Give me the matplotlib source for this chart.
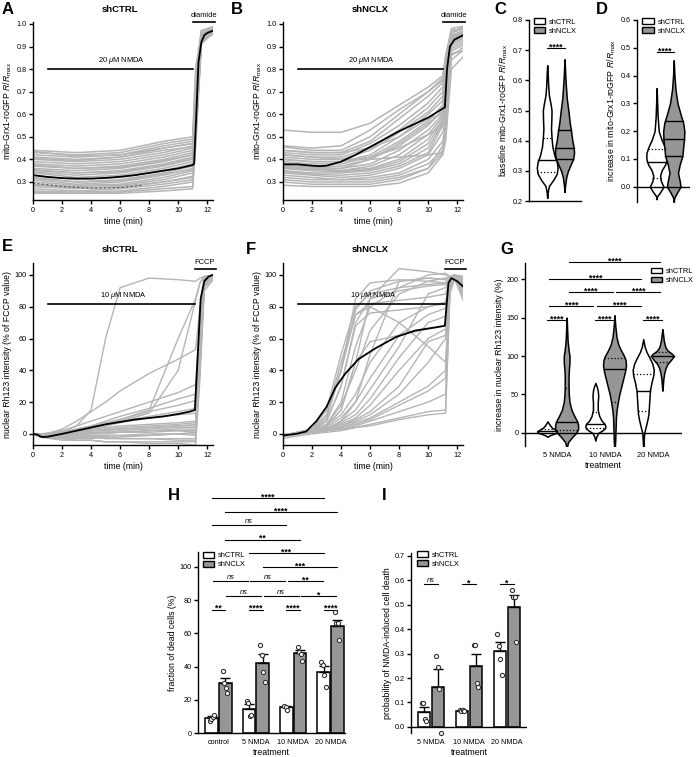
import numpy as np
import matplotlib
matplotlib.use('Agg')
import matplotlib.pyplot as plt
from matplotlib.patches import Patch

plt.rcParams['font.family'] = 'Liberation Sans'
plt.rcParams['mathtext.fontset'] = 'custom'
plt.rcParams['mathtext.rm'] = 'Liberation Sans'
plt.rcParams['mathtext.it'] = 'Liberation Sans:italic'
plt.rcParams['axes.linewidth'] = 1.0
plt.rcParams['xtick.labelsize'] = 5.2
plt.rcParams['ytick.labelsize'] = 5.2
plt.rcParams['xtick.major.size'] = 3
plt.rcParams['ytick.major.size'] = 3
plt.rcParams['xtick.major.pad'] = 2
plt.rcParams['ytick.major.pad'] = 1.5

LAB = 6.3   # axis label size
ANN = 5.4   # annotation text size

# ---------------- data ----------------
# A: mito-Grx1-roGFP traces, shCTRL, 20 uM NMDA
t_a = [0, 3, 6, 9, 11, 11.2, 11.6, 12.5]
traces_a = [
    [0.44, 0.43, 0.44, 0.48, 0.50, 0.80, 0.97, 0.99],
    [0.435, 0.415, 0.42, 0.45, 0.47, 0.74, 0.97, 0.99],
    [0.43, 0.42, 0.43, 0.47, 0.49, 0.75, 0.96, 0.98],
    [0.42, 0.41, 0.42, 0.46, 0.48, 0.70, 0.95, 0.97],
    [0.41, 0.40, 0.41, 0.45, 0.47, 0.72, 0.96, 0.98],
    [0.405, 0.395, 0.41, 0.44, 0.455, 0.70, 0.95, 0.97],
    [0.40, 0.39, 0.40, 0.43, 0.46, 0.68, 0.94, 0.97],
    [0.39, 0.38, 0.39, 0.42, 0.45, 0.66, 0.95, 0.99],
    [0.38, 0.37, 0.38, 0.41, 0.44, 0.70, 0.96, 0.98],
    [0.375, 0.36, 0.365, 0.395, 0.42, 0.63, 0.94, 0.98],
    [0.37, 0.36, 0.37, 0.40, 0.43, 0.62, 0.93, 0.96],
    [0.36, 0.35, 0.36, 0.39, 0.42, 0.65, 0.94, 0.97],
    [0.355, 0.34, 0.345, 0.375, 0.405, 0.66, 0.95, 0.97],
    [0.35, 0.34, 0.35, 0.38, 0.41, 0.60, 0.95, 0.98],
    [0.345, 0.33, 0.34, 0.37, 0.40, 0.64, 0.94, 0.96],
    [0.34, 0.32, 0.33, 0.36, 0.39, 0.58, 0.93, 0.97],
    [0.33, 0.31, 0.32, 0.35, 0.38, 0.62, 0.95, 0.99],
    [0.32, 0.30, 0.31, 0.34, 0.37, 0.55, 0.92, 0.96],
    [0.315, 0.30, 0.305, 0.335, 0.355, 0.58, 0.93, 0.98],
    [0.31, 0.29, 0.30, 0.33, 0.36, 0.60, 0.94, 0.97],
    [0.30, 0.285, 0.29, 0.32, 0.35, 0.52, 0.93, 0.98],
    [0.29, 0.28, 0.285, 0.31, 0.34, 0.56, 0.94, 0.96],
    [0.285, 0.275, 0.275, 0.30, 0.325, 0.52, 0.92, 0.97],
    [0.28, 0.27, 0.28, 0.30, 0.32, 0.50, 0.92, 0.97],
    [0.27, 0.26, 0.27, 0.29, 0.31, 0.55, 0.93, 0.98],
    [0.26, 0.255, 0.26, 0.28, 0.30, 0.48, 0.92, 0.96],
    [0.255, 0.25, 0.255, 0.27, 0.28, 0.45, 0.91, 0.97],
    [0.25, 0.25, 0.25, 0.26, 0.27, 0.50, 0.93, 0.99],
]
t_a_mean = [0, 1, 2, 3, 4, 5, 6, 7, 8, 9, 10, 11, 11.1, 11.25, 11.4, 11.6, 11.8, 12, 12.4]
mean_a = [0.33, 0.322, 0.317, 0.315, 0.315, 0.318, 0.323, 0.33, 0.34, 0.35, 0.36, 0.375,
          0.38, 0.6, 0.83, 0.92, 0.95, 0.96, 0.97]
t_a_dark = [0, 2, 4, 6, 7.5]
dark_a = [0.295, 0.28, 0.272, 0.275, 0.285]

# B: shNCLX, 20 uM NMDA
t_b = [0, 2, 4, 6, 8, 10, 11, 11.2, 11.6, 12.5]
traces_b = [
    [0.53, 0.52, 0.52, 0.56, 0.64, 0.72, 0.77, 0.85, 0.98, 0.99],
    [0.46, 0.45, 0.46, 0.53, 0.62, 0.70, 0.76, 0.86, 0.97, 0.98],
    [0.455, 0.44, 0.44, 0.50, 0.60, 0.70, 0.75, 0.82, 0.96, 0.99],
    [0.44, 0.43, 0.43, 0.48, 0.58, 0.68, 0.74, 0.84, 0.97, 0.98],
    [0.44, 0.43, 0.43, 0.45, 0.50, 0.58, 0.60, 0.70, 0.94, 0.96],
    [0.43, 0.42, 0.42, 0.47, 0.55, 0.65, 0.72, 0.80, 0.95, 0.97],
    [0.42, 0.41, 0.41, 0.45, 0.53, 0.63, 0.70, 0.78, 0.96, 0.98],
    [0.42, 0.41, 0.40, 0.40, 0.41, 0.42, 0.43, 0.55, 0.93, 0.97],
    [0.41, 0.40, 0.40, 0.44, 0.52, 0.61, 0.68, 0.79, 0.94, 0.96],
    [0.40, 0.39, 0.39, 0.42, 0.50, 0.60, 0.66, 0.76, 0.95, 0.97],
    [0.40, 0.39, 0.39, 0.41, 0.45, 0.51, 0.55, 0.65, 0.93, 0.96],
    [0.39, 0.38, 0.38, 0.41, 0.48, 0.57, 0.64, 0.74, 0.93, 0.96],
    [0.38, 0.37, 0.37, 0.40, 0.46, 0.55, 0.62, 0.72, 0.94, 0.97],
    [0.375, 0.365, 0.36, 0.38, 0.44, 0.53, 0.60, 0.70, 0.92, 0.95],
    [0.37, 0.36, 0.35, 0.37, 0.42, 0.51, 0.59, 0.68, 0.93, 0.96],
    [0.365, 0.355, 0.35, 0.36, 0.40, 0.49, 0.58, 0.66, 0.91, 0.94],
    [0.36, 0.355, 0.36, 0.40, 0.47, 0.56, 0.61, 0.72, 0.94, 0.97],
    [0.36, 0.35, 0.345, 0.355, 0.39, 0.47, 0.57, 0.64, 0.92, 0.95],
    [0.35, 0.34, 0.34, 0.35, 0.38, 0.45, 0.56, 0.62, 0.90, 0.93],
    [0.345, 0.335, 0.33, 0.34, 0.37, 0.43, 0.55, 0.60, 0.91, 0.94],
    [0.34, 0.33, 0.32, 0.33, 0.36, 0.42, 0.52, 0.58, 0.89, 0.92],
    [0.33, 0.32, 0.31, 0.32, 0.34, 0.40, 0.48, 0.55, 0.88, 0.91],
    [0.32, 0.31, 0.31, 0.31, 0.33, 0.38, 0.44, 0.52, 0.86, 0.90],
    [0.31, 0.30, 0.30, 0.30, 0.32, 0.36, 0.43, 0.50, 0.84, 0.89],
    [0.30, 0.29, 0.29, 0.29, 0.31, 0.36, 0.46, 0.54, 0.87, 0.88],
    [0.285, 0.28, 0.28, 0.28, 0.295, 0.34, 0.42, 0.48, 0.80, 0.86],
]
t_b_mean = [0, 1, 2, 2.5, 3, 4, 5, 6, 7, 8, 9, 10, 11, 11.15, 11.3, 11.5, 11.8, 12.1, 12.4]
mean_b = [0.378, 0.378, 0.372, 0.370, 0.372, 0.39, 0.42, 0.455, 0.49, 0.525, 0.555, 0.585,
          0.625, 0.63, 0.80, 0.90, 0.93, 0.94, 0.95]

# C / D violins (y levels, half widths, quartiles)
c_ctrl_y = [0.21, 0.23, 0.25, 0.27, 0.29, 0.31, 0.33, 0.35, 0.38, 0.41, 0.44, 0.47, 0.50, 0.52, 0.55, 0.58, 0.62, 0.65]
c_ctrl_w = [0, 0.03, 0.1, 0.35, 0.55, 0.6, 0.55, 0.42, 0.3, 0.25, 0.22, 0.24, 0.25, 0.2, 0.1, 0.06, 0.03, 0]
c_ctrl_q = [0.295, 0.335, 0.41]
c_nclx_y = [0.23, 0.25, 0.28, 0.30, 0.32, 0.34, 0.36, 0.38, 0.40, 0.43, 0.46, 0.50, 0.54, 0.58, 0.62, 0.67]
c_nclx_w = [0, 0.03, 0.1, 0.2, 0.35, 0.5, 0.55, 0.52, 0.45, 0.38, 0.3, 0.22, 0.13, 0.08, 0.04, 0]
c_nclx_q = [0.34, 0.375, 0.435]

d_ctrl_y = [-0.045, -0.035, -0.02, 0.0, 0.02, 0.04, 0.06, 0.08, 0.10, 0.12, 0.14, 0.17, 0.20, 0.25, 0.30, 0.355]
d_ctrl_w = [0, 0.02, 0.2, 0.4, 0.25, 0.2, 0.3, 0.5, 0.6, 0.6, 0.5, 0.28, 0.12, 0.06, 0.03, 0]
d_ctrl_q = [0.03, 0.09, 0.135]
d_nclx_y = [-0.055, -0.04, -0.02, 0.0, 0.02, 0.05, 0.08, 0.11, 0.14, 0.17, 0.20, 0.23, 0.26, 0.30, 0.35, 0.40, 0.455]
d_nclx_w = [0, 0.03, 0.2, 0.4, 0.35, 0.25, 0.35, 0.5, 0.55, 0.6, 0.62, 0.55, 0.4, 0.22, 0.1, 0.04, 0]
d_nclx_q = [0.11, 0.172, 0.237]

# E: Rh123, shCTRL, 10 uM NMDA
t_ef = [0, 0.5, 2, 3, 4, 5, 6, 8, 10, 11.2, 11.5, 11.8, 12.5]
traces_e = [
    [0, -1, -2, -1, 0, 0, 1, 2, 3, 3, 50, 95, 100],
    [0, -1, -1, 0, 1, 1, 2, 3, 4, 4, 55, 97, 99],
    [0, -2, -3, -3, -3, -2, -2, -1, 0, 0, 45, 94, 100],
    [0, -2, -4, -4, -4, -5, -5, -5, -5, -5, 40, 92, 99],
    [0, -1, -2, -2, -2, -3, -3, -3, -3, -3, 50, 95, 100],
    [0, -1, 0, 1, 2, 3, 4, 5, 6, 7, 60, 96, 100],
    [0, 0, 1, 2, 3, 4, 5, 6, 7, 8, 65, 98, 100],
    [0, -2, -3, -4, -4, -5, -5, -6, -6, -7, 35, 90, 98],
    [0, -1, -1, -1, -1, -1, -1, 0, 0, 1, 52, 96, 100],
    [0, -1, 0, 0, 1, 1, 1, 2, 2, 2, 48, 94, 99],
    [0, -1, -2, -2, -2, -1, -1, -1, 0, -1, 42, 93, 100],
    [0, 0, 1, 2, 2, 3, 3, 4, 5, 6, 58, 97, 100],
    [0, -2, -3, -2, -2, -2, -3, -3, -4, -4, 45, 93, 99],
    [0, -1, 0, 1, 2, 2, 3, 4, 5, 5, 53, 96, 100],
    [0, -1, -1, 0, 0, 1, 1, 1, 2, 1, 47, 95, 100],
    [0, -1, 3, 8, 14, 20, 27, 38, 47, 53, 80, 98, 100],
    [0, -1, 2, 5, 8, 11, 14, 20, 26, 31, 70, 97, 100],
    [0, -1, 1, 3, 5, 8, 11, 16, 22, 25, 68, 97, 100],
    [0, -1, 1, 5, 15, 60, 92, 98, 97, 96, 98, 99, 100],
    [0, -1, 1, 3, 5, 7, 9, 15, 60, 85, 95, 99, 100],
    [0, -1, 0, 2, 4, 6, 8, 13, 40, 84, 95, 99, 100],
    [0, -1, 1, 2, 4, 6, 9, 14, 18, 21, 65, 96, 100],
    [0, -1, 1, 2, 4, 6, 8, 11, 14, 16, 62, 96, 100],
    [0, 0, 1, 2, 3, 5, 7, 10, 12, 13, 60, 96, 99],
]
t_e_mean = [0, 0.3, 0.6, 1, 2, 3, 4, 5, 6, 7, 8, 9, 10, 10.8, 11.15, 11.35, 11.55, 11.8, 12.1, 12.4]
mean_e = [0, -0.5, -2, -1.8, 0, 2, 4, 6, 7.5, 9, 10, 11, 12.5, 14, 15, 50, 85, 96, 99, 100]

# F: Rh123, shNCLX, 10 uM NMDA
traces_f = [
    [0, 0, 3, 15, 50, 80, 88, 92, 94, 95, 98, 99, 98],
    [0, 0, 2, 10, 40, 78, 90, 96, 98, 97, 99, 100, 97],
    [-1, 0, 2, 8, 30, 70, 85, 90, 93, 94, 98, 99, 95],
    [0, 0, 3, 12, 45, 75, 82, 84, 86, 88, 97, 99, 93],
    [-2, -1, 1, 6, 20, 55, 80, 92, 100, 101, 99, 98, 96],
    [0, 0, 2, 6, 18, 40, 65, 88, 96, 98, 99, 100, 99],
    [0, 0, 2, 5, 15, 45, 85, 104, 102, 100, 99, 100, 98],
    [0, 0, 2, 5, 12, 25, 45, 70, 80, 83, 96, 99, 90],
    [0, 0, 1, 4, 10, 20, 35, 62, 75, 79, 95, 99, 88],
    [0, 0, 1, 3, 8, 15, 28, 55, 88, 92, 97, 100, 94],
    [0, 0, 1, 3, 7, 12, 22, 48, 70, 74, 95, 99, 92],
    [0, 0, 1, 3, 6, 10, 18, 40, 60, 66, 94, 98, 85],
    [0, 0, 1, 2, 5, 9, 14, 30, 58, 62, 94, 99, 90],
    [-1, 0, 1, 2, 5, 8, 12, 25, 45, 60, 93, 98, 86],
    [0, 0, 1, 2, 4, 7, 10, 20, 30, 40, 92, 98, 82],
    [0, 0, 1, 2, 4, 6, 9, 18, 27, 35, 92, 99, 95],
    [0, 0, 1, 2, 3, 5, 8, 14, 20, 25, 90, 98, 90],
    [0, 0, 1, 2, 3, 4, 6, 10, 14, 15, 90, 97, 93],
    [-3, -2, 0, 1, 2, 4, 5, 9, 12, 13, 88, 97, 95],
    [0, 0, 2, 5, 15, 45, 58, 62, 66, 68, 96, 99, 91],
    [0, 0, 2, 8, 30, 68, 76, 78, 80, 82, 97, 99, 92],
    [0, 0, 3, 12, 40, 85, 95, 97, 96, 95, 98, 99, 97],
    [0, 0, 1, 3, 8, 20, 50, 96, 98, 97, 99, 99, 96],
    [0, 0, 2, 10, 40, 75, 80, 70, 55, 45, 94, 99, 90],
]
t_f_mean = [0, 0.9, 1.6, 2.3, 3.0, 3.6, 4.3, 5.2, 6.4, 7.8, 9.1, 10.5, 11.15, 11.4, 11.6, 12.0, 12.5]
mean_f = [-1, 0, 1.5, 8, 17, 29, 38, 47, 54, 61, 65, 67, 68, 95, 98, 96, 92]

# G violins: increase in nuclear Rh123 intensity (%)
g_groups = ['5 NMDA', '10 NMDA', '20 NMDA']
g_ctrl_y = [
    [-5, -3, 0, 2, 4, 7, 10, 13, 15],
    [-10, -5, 0, 3, 6, 9, 12, 16, 22, 30, 40, 48, 55, 60, 65],
    [-20, -10, 0, 5, 10, 18, 25, 35, 45, 55, 65, 75, 82, 90, 98, 105, 112, 122],
]
g_ctrl_w = [
    [0, 0.05, 0.18, 0.22, 0.17, 0.09, 0.05, 0.02, 0],
    [0, 0.02, 0.06, 0.14, 0.2, 0.21, 0.19, 0.13, 0.08, 0.05, 0.05, 0.06, 0.05, 0.03, 0],
    [0, 0.01, 0.02, 0.04, 0.06, 0.09, 0.11, 0.12, 0.13, 0.14, 0.17, 0.21, 0.22, 0.19, 0.13, 0.07, 0.03, 0],
]
g_ctrl_q = [[0.5, 2.5, 5], [6, 12, 27], [28, 55, 77]]
g_nclx_y = [
    [-20, -12, -5, 0, 5, 10, 15, 22, 30, 40, 50, 60, 75, 85, 92, 100, 108, 120, 135, 150],
    [-25, -10, 0, 10, 20, 30, 40, 50, 60, 70, 80, 88, 95, 100, 108, 115, 125, 140, 153],
    [55, 62, 70, 78, 85, 90, 95, 100, 103, 107, 112, 120, 128, 135],
]
g_nclx_w = [
    [0, 0.03, 0.12, 0.2, 0.24, 0.24, 0.22, 0.16, 0.10, 0.06, 0.045, 0.04, 0.04, 0.05, 0.06, 0.06, 0.04, 0.02, 0.01, 0],
    [0, 0.015, 0.02, 0.025, 0.03, 0.045, 0.07, 0.1, 0.14, 0.18, 0.22, 0.24, 0.23, 0.2, 0.13, 0.08, 0.04, 0.015, 0],
    [0, 0.01, 0.02, 0.04, 0.07, 0.11, 0.18, 0.24, 0.2, 0.11, 0.06, 0.03, 0.015, 0],
]
g_nclx_q = [[4, 14, 58], [40, 83, 98], [92, 100, 105]]

# H: fraction of dead cells (%)
h_groups = ['control', '5 NMDA', '10 NMDA', '20 NMDA']
h_ctrl_mean = [9, 14.5, 15.5, 37]
h_ctrl_err = [1.2, 2.8, 0.8, 3.5]
h_nclx_mean = [30, 42, 48, 64.5]
h_nclx_err = [3.0, 5.5, 1.8, 3.5]
h_ctrl_pts = [[7.5, 8.5, 9.5, 11], [19.5, 18, 10.5, 11], [16.5, 15.5, 14], [43, 41, 35, 27.5]]
h_nclx_pts = [[37.5, 30, 27, 24], [53, 47, 37, 31], [51.5, 49, 47.5, 43.5], [73, 66, 66, 56]]

# I: probability of NMDA-induced cell death
i_groups = ['5 NMDA', '10 NMDA', '20 NMDA']
i_ctrl_mean = [0.06, 0.065, 0.31]
i_ctrl_err = [0.02, 0.003, 0.038]
i_nclx_mean = [0.165, 0.25, 0.49]
i_nclx_err = [0.07, 0.05, 0.05]
i_ctrl_pts = [[0.096, 0.096, 0.034, 0.025], [0.068, 0.066, 0.07, 0.064], [0.38, 0.333, 0.28, 0.212]]
i_nclx_pts = [[0.29, 0.246, 0.157, -0.023], [0.334, 0.334, 0.178, 0.164], [0.56, 0.533, 0.533, 0.349]]

# ---------------- figure ----------------
W, H = 697, 757
fig = plt.figure(figsize=(W / 100, H / 100), dpi=100)

TRACE = '#b5b5b5'
GREY = '#969696'


def px_axes(x0, y0, x1, y1):
    return fig.add_axes([x0 / W, 1 - y1 / H, (x1 - x0) / W, (y1 - y0) / H])


def ftext(x, y, s, **kw):
    fig.text(x / W, 1 - y / H, s, **kw)


def clean(ax):
    for s in ['top', 'right']:
        ax.spines[s].set_visible(False)
    ax.tick_params(width=1.0, colors='black')


def violin(ax, pos, ys, ws, q, face, dotted=True):
    ys = np.asarray(ys)
    ws = np.asarray(ws)
    ax.fill_betweenx(ys, pos - ws, pos + ws, facecolor=face, edgecolor='black', lw=1.1, zorder=3)
    for val, ls in zip(q, [':' if dotted else '-', '-', ':' if dotted else '-']):
        w = np.interp(val, ys, ws)
        ax.plot([pos - w, pos + w], [val, val], color='black', lw=1.0 if ls == '-' else 0.9,
                ls=ls, zorder=4)


def sig(ax, x0, x1, y, label, gap=0.04):
    ax.plot([x0 + gap, x1 - gap], [y, y], color='black', lw=0.8, clip_on=False)
    if label == 'ns':
        ax.annotate(label, xy=((x0 + x1) / 2, y), xytext=(0, 1.5), textcoords='offset points',
                    ha='center', va='baseline', fontsize=5.4, fontstyle='italic', annotation_clip=False)
    else:
        ax.annotate(label, xy=((x0 + x1) / 2, y), xytext=(0, -1.0), textcoords='offset points',
                    ha='center', va='baseline', fontsize=6.2, fontweight='bold', annotation_clip=False)


def legend_boxes(ax, x, y):
    handles = [Patch(facecolor='white', edgecolor='black', lw=1.0, label='shCTRL'),
               Patch(facecolor=GREY, edgecolor='black', lw=1.0, label='shNCLX')]
    ax.legend(handles=handles, loc='upper left', bbox_to_anchor=(x, y), frameon=False,
              fontsize=5.4, handlelength=1.5, handleheight=0.8, handletextpad=0.5,
              borderaxespad=0, borderpad=0, labelspacing=0.2)


ylab_grx = r'mito-Grx1-roGFP $\mathit{R/R}_{\mathrm{max}}$'
ylab_rh = 'nuclear Rh123 intensity (% of FCCP value)'

# ---- A & B ----
for (x0, x1), traces, t_tr, tm, mean, title, letter, lx in [
        ((33, 213), traces_a, t_a, t_a_mean, mean_a, 'shCTRL', 'A', 2),
        ((283, 463), traces_b, t_b, t_b_mean, mean_b, 'shNCLX', 'B', 231)]:
    ax = px_axes(x0, 21.7, x1, 200)
    for tr in traces:
        ax.plot(t_tr, tr, color=TRACE, lw=1.1, zorder=1)
    if letter == 'A':
        ax.plot(t_a_dark, dark_a, color='#555555', lw=0.8, ls=(0, (2, 2)), zorder=2)
    ax.plot(tm, mean, color='black', lw=1.3, zorder=3)
    ax.set_xlim(0, 12.4)
    ax.set_ylim(0.22, 1.01)
    ax.set_xticks(range(0, 13, 2))
    ax.set_yticks(np.arange(0.3, 1.01, 0.1))
    ax.set_yticklabels(['%.1f' % v for v in np.arange(0.3, 1.01, 0.1)])
    clean(ax)
    ax.set_xlabel('time (min)', fontsize=LAB, labelpad=2)
    ax.set_ylabel(ylab_grx, fontsize=LAB, labelpad=2)
    ax.plot([1, 11.05], [0.8, 0.8], color='black', lw=1.2)
    ax.text(6.1, 0.812, r'20 $\mu$M NMDA', ha='center', va='bottom', fontsize=ANN)
    ax.plot([11.05, 12.55], [1.01, 1.01], color='black', lw=1.2, clip_on=False)
    ax.text(11.75, 1.022, 'diamide', ha='center', va='bottom', fontsize=ANN, clip_on=False)
    ftext(lx, 9, letter, fontsize=12, fontweight='bold', ha='left', va='center')
    ftext((x0 + x1) / 2 - 3, 9, title, fontsize=6.8, fontweight='bold', ha='center', va='center')

# ---- C ----
ax = px_axes(529, 20, 581, 201)
violin(ax, 0, c_ctrl_y, c_ctrl_w, c_ctrl_q, 'white', dotted=True)
violin(ax, 1, c_nclx_y, c_nclx_w, c_nclx_q, GREY, dotted=False)
ax.set_xlim(-1.05, 1.95)
ax.set_ylim(0.2, 0.8)
ax.set_yticks(np.arange(0.2, 0.81, 0.1))
ax.set_yticklabels(['%.1f' % v for v in np.arange(0.2, 0.81, 0.1)])
ax.set_xticks([])
clean(ax)
ax.set_ylabel('baseline ' + ylab_grx, fontsize=LAB, labelpad=2)
sig(ax, 0, 1, 0.706, '****', gap=0.0)
legend_boxes(ax, 0.1, 1.01)
ftext(494, 9, 'C', fontsize=12, fontweight='bold', ha='left', va='center')

# ---- D ----
ax = px_axes(637, 20, 690, 202)
violin(ax, 0, d_ctrl_y, d_ctrl_w, d_ctrl_q, 'white', dotted=True)
violin(ax, 1, d_nclx_y, d_nclx_w, d_nclx_q, GREY, dotted=False)
ax.set_xlim(-1.15, 1.95)
ax.set_ylim(-0.055, 0.6)
ax.set_yticks(np.arange(0, 0.61, 0.1))
ax.set_yticklabels(['%.1f' % v for v in np.arange(0, 0.61, 0.1)])
ax.set_xticks([])
clean(ax)
ax.spines['bottom'].set_visible(False)
ax.axhline(0, color='black', lw=1.0, zorder=5)
ax.set_ylabel('increase in ' + ylab_grx, fontsize=LAB, labelpad=2)
sig(ax, 0, 1, 0.486, '****', gap=0.0)
legend_boxes(ax, 0.1, 1.01)
ftext(596, 9, 'D', fontsize=12, fontweight='bold', ha='left', va='center')

# ---- E & F ----
for (x0, x1), traces, tm, mean, title, letter, lx, ly in [
        ((33, 213), traces_e, t_e_mean, mean_e, 'shCTRL', 'E', 2, 246),
        ((283, 463), traces_f, t_f_mean, mean_f, 'shNCLX', 'F', 246, 250)]:
    ax = px_axes(x0, 263, x1, 445)
    for tr in traces:
        ax.plot(t_ef, tr, color=TRACE, lw=1.0, zorder=1)
    ax.plot(tm, mean, color='black', lw=1.3, zorder=3)
    ax.set_xlim(0, 12.4)
    ax.set_ylim(-7, 107.5)
    ax.set_xticks(range(0, 13, 2))
    ax.set_yticks(range(0, 101, 20))
    clean(ax)
    ax.set_xlabel('time (min)', fontsize=LAB, labelpad=2)
    ax.set_ylabel(ylab_rh, fontsize=LAB, labelpad=2)
    ax.plot([1, 11.15], [82, 82], color='black', lw=1.2, zorder=4)
    ax.text(6.2, 83.5, r'10 $\mu$M NMDA', ha='center', va='bottom', fontsize=ANN, zorder=4)
    ax.plot([11.15, 12.6], [104, 104], color='black', lw=1.2, clip_on=False)
    ax.text(11.85, 105.5, 'FCCP', ha='center', va='bottom', fontsize=ANN, clip_on=False)
    ftext(lx, ly, letter, fontsize=12, fontweight='bold', ha='left', va='center')
    ftext((x0 + x1) / 2 - 3, 249, title, fontsize=6.8, fontweight='bold', ha='center', va='center')

# ---- G ----
ax = px_axes(525, 263, 682, 446)
off = 0.2
for i in range(3):
    violin(ax, i - off, g_ctrl_y[i], g_ctrl_w[i], g_ctrl_q[i], 'white', dotted=True)
    violin(ax, i + off, g_nclx_y[i], g_nclx_w[i], g_nclx_q[i], GREY, dotted=True)
ax.set_xlim(-0.67, 2.61)
ax.set_ylim(-17, 221)
ax.set_yticks([0, 50, 100, 150, 200])
ax.set_xticks(range(3))
ax.set_xticklabels(g_groups, fontsize=5.4)
ax.tick_params(axis='x', length=0, pad=4)
clean(ax)
ax.spines['bottom'].set_visible(False)
ax.axhline(0, color='black', lw=1.0, zorder=5)
ax.set_xlabel('treatment', fontsize=LAB, labelpad=1.5)
ax.set_ylabel('increase in nuclear Rh123 intensity (%)', fontsize=LAB, labelpad=2)
pc = [-off, off, 1 - off, 1 + off, 2 - off, 2 + off]
sig(ax, pc[1], pc[5], 222, '****')
sig(ax, pc[0], pc[4], 200, '****')
sig(ax, pc[1], pc[3], 183, '****')
sig(ax, pc[3], pc[5], 183, '****')
sig(ax, pc[0], pc[2], 165, '****')
sig(ax, pc[2], pc[4], 165, '****')
for k in range(3):
    sig(ax, pc[2 * k], pc[2 * k + 1], 147, '****', gap=0.0)
legend_boxes(ax, 0.8, 0.975)
ftext(500, 250, 'G', fontsize=12, fontweight='bold', ha='left', va='center')


def bar_panel(ax, groups, cm, ce, nm, ne, cp, npts, boff, bw):
    x = np.arange(len(groups))
    ax.bar(x - boff, cm, width=bw, facecolor='white', edgecolor='black', lw=1.1, zorder=2)
    ax.bar(x + boff, nm, width=bw, facecolor=GREY, edgecolor='black', lw=1.1, zorder=2)
    ax.errorbar(x - boff, cm, yerr=[np.zeros(len(cm)), ce], fmt='none', ecolor='black',
                elinewidth=1.0, capsize=3.5, capthick=1.0, zorder=3)
    ax.errorbar(x + boff, nm, yerr=[np.zeros(len(nm)), ne], fmt='none', ecolor='black',
                elinewidth=1.0, capsize=3.5, capthick=1.0, zorder=3)
    jit = [-0.06, -0.02, 0.02, 0.06]
    for k in range(len(groups)):
        for pts, xc in ((cp[k], x[k] - boff), (npts[k], x[k] + boff)):
            for j, v in enumerate(pts):
                ax.plot(xc + jit[j], v, 'o', ms=3.0, mfc='white', mec='#333333', mew=0.8,
                        zorder=4, clip_on=False)
    ax.set_xticks(x)
    ax.set_xticklabels(groups, fontsize=5.2)
    ax.tick_params(axis='x', length=0, pad=4)
    clean(ax)
    ax.set_xlabel('treatment', fontsize=LAB, labelpad=1.5)


# ---- H ----
ax = px_axes(198, 552, 345, 733)
bar_panel(ax, h_groups, h_ctrl_mean, h_ctrl_err, h_nclx_mean, h_nclx_err,
          h_ctrl_pts, h_nclx_pts, 0.18, 0.34)
ax.set_xlim(-0.55, 3.39)
ax.set_ylim(0, 109)
ax.set_yticks(range(0, 101, 20))
ax.set_ylabel('fraction of dead cells (%)', fontsize=LAB, labelpad=2)
hc = [g + s for g in range(4) for s in (-0.18, 0.18)]
sig(ax, hc[0], hc[6], 141.6, '****', gap=0.0)
sig(ax, hc[1], hc[7], 133, '****', gap=0.0)
sig(ax, hc[0], hc[4], 125, 'ns', gap=0.0)
sig(ax, hc[1], hc[5], 116.5, '**', gap=0.0)
sig(ax, hc[2], hc[6], 108.4, '***', gap=0.0)
sig(ax, hc[3], hc[7], 99.8, '***', gap=0.0)
sig(ax, hc[0], hc[2], 91.4, 'ns', gap=0.03)
sig(ax, hc[2], hc[4], 91.4, 'ns', gap=0.03)
sig(ax, hc[4], hc[6], 91.4, '**', gap=0.03)
sig(ax, hc[1], hc[3], 82.7, 'ns', gap=0.03)
sig(ax, hc[3], hc[5], 82.7, 'ns', gap=0.03)
sig(ax, hc[5], hc[7], 82.7, '*', gap=0.03)
for k in range(4):
    sig(ax, hc[2 * k], hc[2 * k + 1], 74.3, '**' if k == 0 else '****', gap=0.0)
legend_boxes(ax, 0.035, 1.0)
ftext(168, 495, 'H', fontsize=12, fontweight='bold', ha='left', va='center')

# ---- I ----
ax = px_axes(411, 553, 527, 733)
bar_panel(ax, i_groups, i_ctrl_mean, i_ctrl_err, i_nclx_mean, i_nclx_err,
          i_ctrl_pts, i_nclx_pts, 0.19, 0.31)
ax.set_xlim(-0.53, 2.53)
ax.set_ylim(-0.025, 0.712)
ax.set_yticks(np.arange(0, 0.71, 0.1))
ax.set_yticklabels(['%.1f' % v for v in np.arange(0, 0.71, 0.1)])
ax.spines['bottom'].set_visible(False)
ax.axhline(0, color='black', lw=1.0, zorder=5)
ax.set_ylabel('probability of NMDA-induced cell death', fontsize=LAB, labelpad=2)
for k, lab in enumerate(['ns', '*', '*']):
    sig(ax, k - 0.19, k + 0.19, 0.585, lab, gap=0.0)
legend_boxes(ax, 0.05, 1.01)
ftext(382, 495, 'I', fontsize=12, fontweight='bold', ha='left', va='center')

fig.savefig('out.png', dpi=100)
